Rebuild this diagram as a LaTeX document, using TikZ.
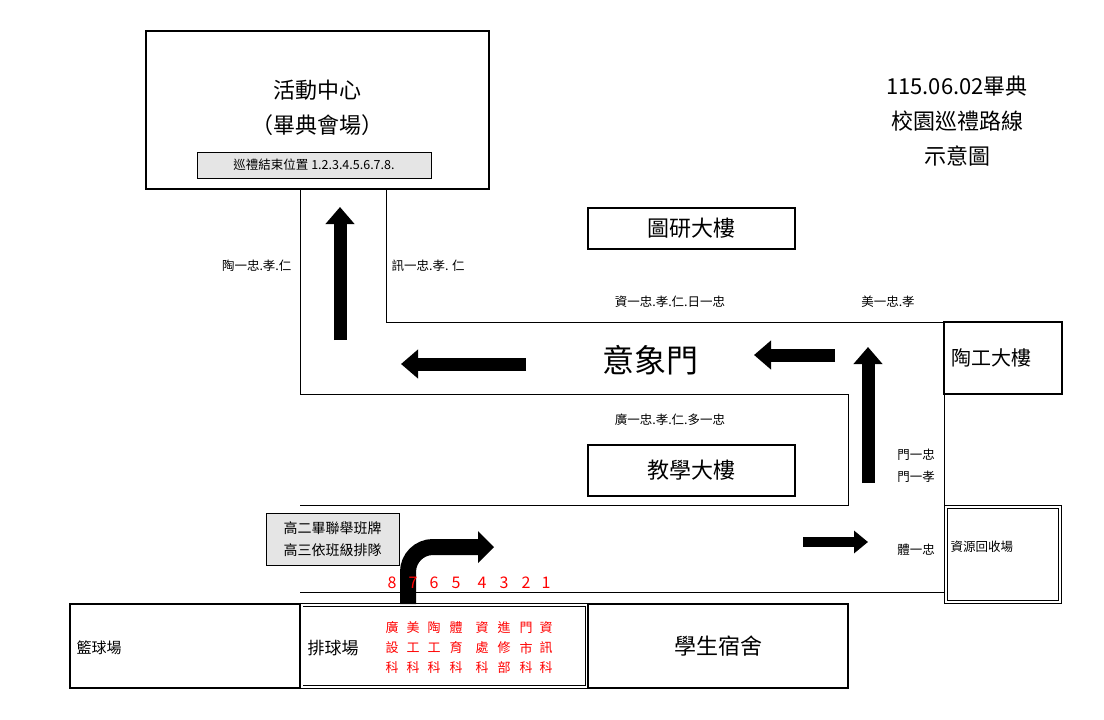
\documentclass[tikz,border=0pt]{standalone}
\usepackage{fontspec}
\setmainfont{Noto Sans CJK TC}
\usetikzlibrary{arrows.meta,calc}
\begin{document}
\begin{tikzpicture}[x=1pt,y=-1pt,
  thick box/.style={draw,line width=2.5pt},
  road/.style={line width=0.9pt},
  fat/.style={line width=13pt,-{Triangle[width=28pt,length=17pt]}},
  lbl/.style={font=\fontsize{12.5}{14}\selectfont},
  red/.style={text=red,font=\fontsize{13}{15}\selectfont},
  big/.style={font=\fontsize{22}{26}\selectfont}]
\useasboundingbox (0,0) rectangle (1104,720);
% roads
\draw[road] (300,189) -- (300,394) -- (848,394) -- (848,505) -- (300,505);
\draw[road] (386,189) -- (386,322) -- (944,322);
\draw[road] (944,394) -- (944,505);
\draw[road] (300,592) -- (944,592);
% buildings
\node[thick box,minimum width=343pt,minimum height=158pt] (hall) at (317.5,110) {};
\node[big] at (317.5,90) {活動中心};
\node[big] at (317.5,125) {（畢典會場）};
\node[draw,fill=black!10,line width=0.8pt,minimum width=234pt,minimum height=26pt,font=\fontsize{12.5}{14}\selectfont] (end) at (314,165) {巡禮結束位置 1.2.3.4.5.6.7.8.};
\node[align=center,font=\fontsize{22}{35}\selectfont] (title) at (957,121) {115.06.02畢典\\校園巡禮路線\\示意圖};
\node[thick box,minimum width=207pt,minimum height=41pt,big] (tuyan) at (691.5,228.5) {圖研大樓};
\node[thick box,minimum width=207pt,minimum height=51pt,big] (jiaoxue) at (691.5,470.5) {教學大樓};
\node[thick box,minimum width=118pt,minimum height=72pt] (taogong) at (1003,358) {};
\node[font=\fontsize{20}{24}\selectfont,anchor=west] at (948,358) {陶工大樓};
\node[draw,double,line width=0.6pt,double distance=2pt,minimum width=114pt,minimum height=95pt] (recycle) at (1003,554.5) {};
\node[lbl,anchor=west] at (947,547) {資源回收場};
\node[font=\fontsize{32}{36}\selectfont] (gate) at (650,360) {意象門};
\node[thick box,minimum width=230pt,minimum height=84pt] (bball) at (185,646) {};
\node[font=\fontsize{15}{18}\selectfont,anchor=west] at (73,648) {籃球場};
\node[draw,double,line width=0.6pt,double distance=2pt,minimum width=285pt,minimum height=82pt] (vball) at (444,646) {};
\node[font=\fontsize{17}{20}\selectfont] at (333,648) {排球場};
\node[thick box,minimum width=260pt,minimum height=84pt,big] (dorm) at (718,646) {學生宿舍};
\node[draw,fill=black!10,line width=0.8pt,minimum width=133pt,minimum height=52pt,align=center,font=\fontsize{14}{22}\selectfont] (note) at (332.5,539) {高二畢聯舉班牌\\高三依班級排隊};
% labels
\node[lbl,anchor=east] at (295,266) {陶一忠.孝.仁};
\node[lbl,anchor=west] at (388,266) {訊一忠.孝. 仁};
\node[lbl] at (670,302) {資一忠.孝.仁.日一忠};
\node[lbl] at (888,302) {美一忠.孝};
\node[lbl] at (670,420) {廣一忠.孝.仁.多一忠};
\node[lbl,align=left,font=\fontsize{12.5}{22}\selectfont] at (916,466) {門一忠\\門一孝};
\node[lbl] at (916,550) {體一忠};
% arrows
\coordinate (a1s) at (340,340); \coordinate (a1e) at (340,207);
\coordinate (a2s) at (526,364); \coordinate (a2e) at (401,364);
\coordinate (a3s) at (835,355); \coordinate (a3e) at (754,355);
\coordinate (a4s) at (868,483); \coordinate (a4e) at (868,347);
\coordinate (a5s) at (803,542); \coordinate (a5e) at (868,542);
\draw[fat] (a1s) -- (a1e);
\draw[fat] (a2s) -- (a2e);
\draw[fat] (a3s) -- (a3e);
\draw[fat] (a4s) -- (a4e);
\draw[line width=10pt,-{Triangle[width=22pt,length=14pt]}] (a5s) -- (a5e);
\coordinate (c0) at (408,604); \coordinate (c1) at (479,547);
\draw[line width=16pt] (c0) -- (408,572) arc[start angle=180,end angle=270,radius=25] -- (c1);
\fill (478,531) -- (494,547) -- (478,563) -- cycle;
% red numbers and columns
\foreach \n/\x/\a/\b/\c in {8/392/廣/設/科,7/413/美/工/科,6/434/陶/工/科,5/456/體/育/科,4/482/資/處/科,3/504/進/修/部,2/526/門/市/科,1/546/資/訊/科}{
  \node[red,font=\fontsize{16}{18}\selectfont] at (\x,583) {\n};
  \node[red] at (\x,628) {\a};
  \node[red] at (\x,648) {\b};
  \node[red] at (\x,668) {\c};
}
\end{tikzpicture}
\end{document}
